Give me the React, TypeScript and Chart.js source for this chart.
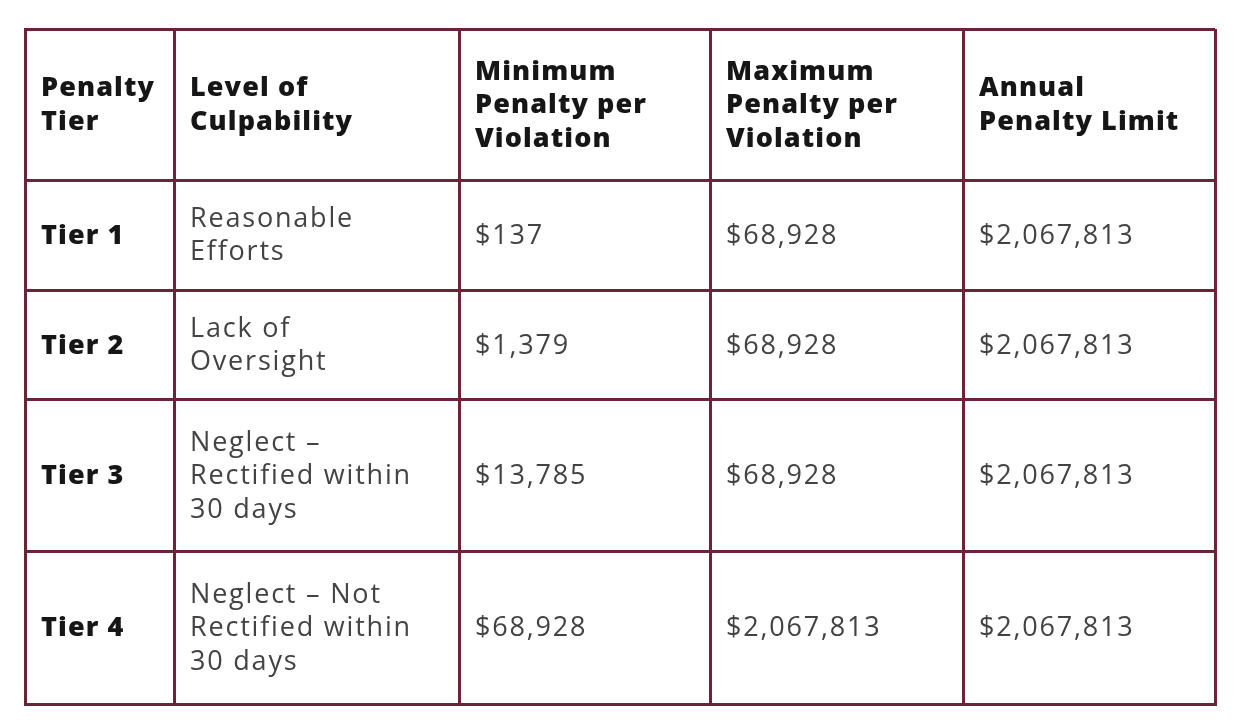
import React, { useEffect, useRef } from "react";
import { Chart, registerables } from "chart.js";

Chart.register(...registerables);

// ---- data ----
const headers: string[][] = [
  ["Penalty", "Tier"],
  ["Level of", "Culpability"],
  ["Minimum", "Penalty per", "Violation"],
  ["Maximum", "Penalty per", "Violation"],
  ["Annual", "Penalty Limit"],
];
const tiers: string[] = ["Tier 1", "Tier 2", "Tier 3", "Tier 4"];
const culpability: string[][] = [
  ["Reasonable", "Efforts"],
  ["Lack of", "Oversight"],
  ["Neglect –", "Rectified within", "30 days"],
  ["Neglect – Not", "Rectified within", "30 days"],
];
const minPenalty: number[] = [137, 1379, 13785, 68928];
const maxPenalty: number[] = [68928, 68928, 68928, 2067813];
const annualLimit: number[] = [2067813, 2067813, 2067813, 2067813];

// ---- layout (cell boundaries in table units) ----
const colEdges = [0, 149, 434, 685, 938, 1190];
const rowEdges = [0, 151, 261, 371, 522, 675];

const BORDER = "#6b2337";
const HEAD_COLOR = "#161616";
const BODY_COLOR = "#434343";
const HEAD_FONT = "800 27px 'Open Sans'";
const HEAD_SPACING = "1.1px";
const BODY_FONT = "400 27px 'Open Sans'";
const BODY_SPACING = "1.8px";
const LINE_H = 33.5;
const PAD_X = 16;

const fmt = (v: number) => "$" + v.toLocaleString("en-US");

const tablePlugin = {
  id: "tableText",
  afterDraw(chart: any) {
    const ctx = chart.ctx as CanvasRenderingContext2D;
    const xs = chart.scales.x;
    const ys = chart.scales.y;
    const rows: { text: string[]; bold: boolean }[][] = [];
    rows.push(headers.map((h) => ({ text: h, bold: true })));
    tiers.forEach((t, i) => {
      rows.push([
        { text: [t], bold: true },
        { text: culpability[i], bold: false },
        { text: [fmt(minPenalty[i])], bold: false },
        { text: [fmt(maxPenalty[i])], bold: false },
        { text: [fmt(annualLimit[i])], bold: false },
      ]);
    });
    ctx.save();
    ctx.textBaseline = "middle";
    ctx.textAlign = "left";
    rows.forEach((row, r) => {
      const top = ys.getPixelForValue(rowEdges[r]);
      const bottom = ys.getPixelForValue(rowEdges[r + 1]);
      const cy = (top + bottom) / 2;
      row.forEach((cell, c) => {
        const left = xs.getPixelForValue(colEdges[c]);
        ctx.font = cell.bold ? HEAD_FONT : BODY_FONT;
        (ctx as any).letterSpacing = cell.bold ? HEAD_SPACING : BODY_SPACING;
        ctx.fillStyle = cell.bold ? HEAD_COLOR : BODY_COLOR;
        const n = cell.text.length;
        cell.text.forEach((line, k) => {
          const y = cy + (k - (n - 1) / 2) * LINE_H + 1;
          ctx.fillText(line, left + PAD_X, y);
        });
      });
    });
    ctx.restore();
  },
};

export default function App() {
  const ref = useRef<HTMLCanvasElement | null>(null);
  useEffect(() => {
    if (!ref.current) return;
    const chart = new Chart(ref.current, {
      type: "scatter",
      data: { datasets: [{ data: [], pointRadius: 0 }] },
      options: {
        animation: false,
        responsive: false,
        layout: { padding: { left: 25, top: 29, right: 26, bottom: 18 } },
        plugins: { legend: { display: false }, tooltip: { enabled: false } },
        scales: {
          x: {
            type: "linear",
            min: colEdges[0],
            max: colEdges[colEdges.length - 1],
            afterBuildTicks: (s: any) => {
              s.ticks = colEdges.map((v) => ({ value: v }));
            },
            ticks: { display: false },
            grid: { color: BORDER, lineWidth: 3, drawTicks: false },
            border: { display: true, color: BORDER, width: 3 },
          },
          y: {
            type: "linear",
            reverse: true,
            min: rowEdges[0],
            max: rowEdges[rowEdges.length - 1],
            afterBuildTicks: (s: any) => {
              s.ticks = rowEdges.map((v) => ({ value: v }));
            },
            ticks: { display: false },
            grid: { color: BORDER, lineWidth: 3, drawTicks: false },
            border: { display: true, color: BORDER, width: 3 },
          },
        },
      },
      plugins: [tablePlugin],
    });
    return () => chart.destroy();
  }, []);
  return (
    <div style={{ position: "absolute", left: 0, top: 0, width: 1241, height: 722, background: "#fff" }}>
      <canvas ref={ref} width={1241} height={722} style={{ width: 1241, height: 722 }} />
    </div>
  );
}
